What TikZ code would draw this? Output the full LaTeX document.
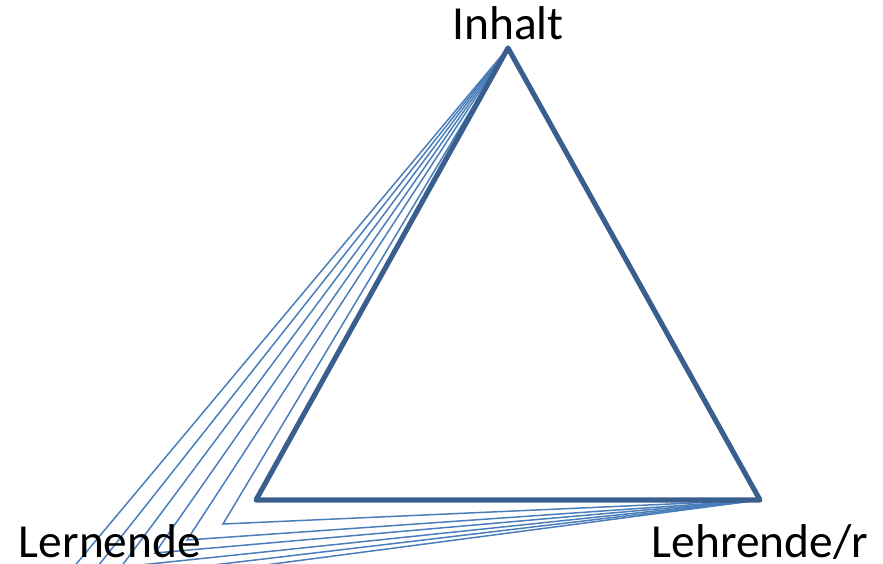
\documentclass[tikz,border=0pt]{standalone}
\usepackage{fontspec}
\setmainfont{Carlito}
\definecolor{triblue}{HTML}{3A5F8E}
\definecolor{lineblue}{HTML}{4A7EBB}
\tikzset{
  corner/.style={font=\fontsize{27}{31}\selectfont, anchor=base, inner sep=0pt},
  thinline/.style={lineblue, line width=0.85pt, line join=miter},
}
\begin{document}
\begin{tikzpicture}[x=0.02cm,y=-0.02cm]
\useasboundingbox (0,0) rectangle (883,564);
\clip (0,0) rectangle (883,564);
% corners of the triangle
\coordinate (top) at (508,48);
\coordinate (right) at (760,500);
\coordinate (left) at (256,500);
% shifted learner corners
\coordinate (l1) at (223,524);
\coordinate (l2) at (187,540);
\coordinate (l3) at (155,553);
\coordinate (l4) at (121,567);
\coordinate (l5) at (87,580);
\coordinate (l6) at (52,593);
\draw[thinline] (top)--(l1)--(right);
\draw[thinline] (top)--(l2)--(right);
\draw[thinline] (top)--(l3)--(right);
\draw[thinline] (top)--(l4)--(right);
\draw[thinline] (top)--(l5)--(right);
\draw[thinline] (top)--(l6)--(right);
\draw[triblue, line width=2.9pt, line join=round] (top)--(right)--(left)--cycle;
\node[corner] (inhalt) at (508,40) {Inhalt};
\node[corner] (lehrende) at (760,557) {Lehrende/r};
\node[corner] (lernende) at (110,557) {Lernende};
\end{tikzpicture}
\end{document}
